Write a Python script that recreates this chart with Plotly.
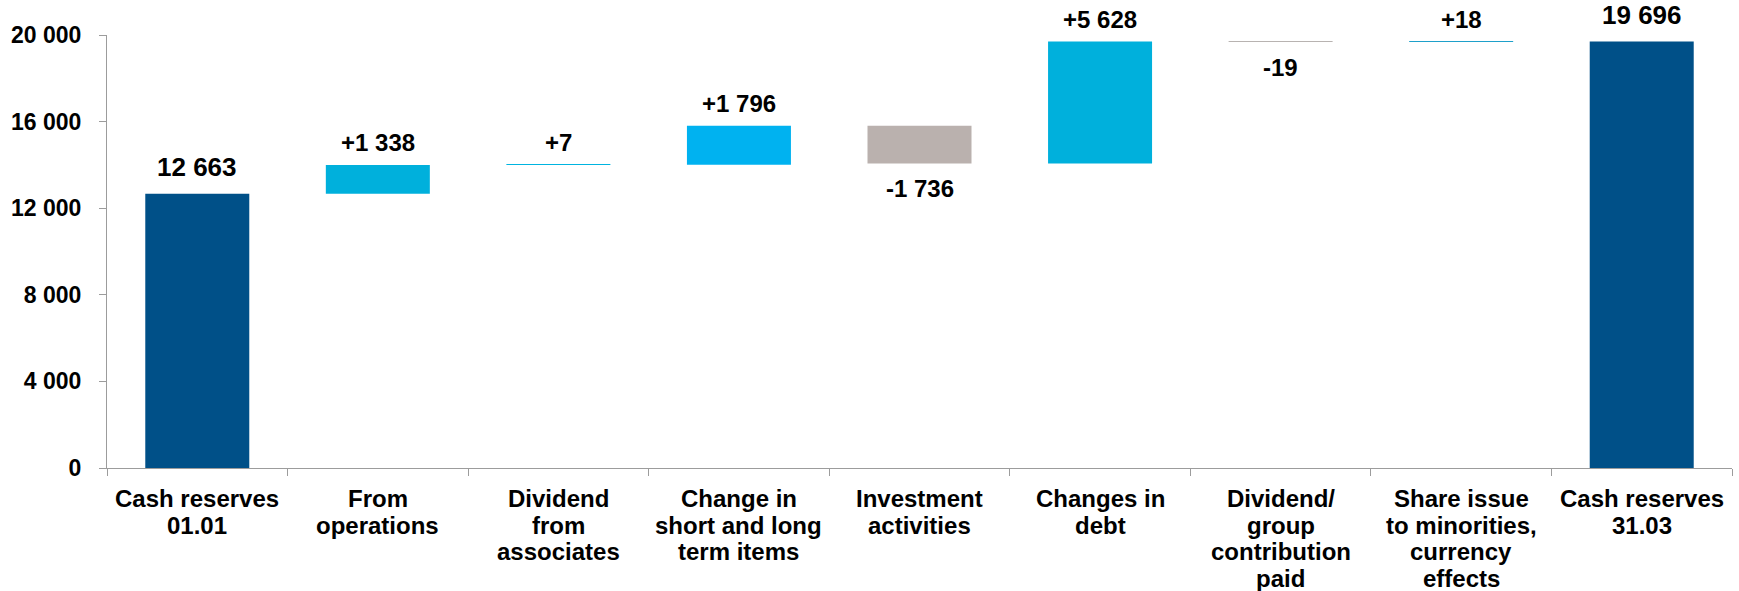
import plotly.graph_objects as go

# ---- data ----
categories = [
    "Cash reserves<br>01.01",
    "From<br>operations",
    "Dividend<br>from<br>associates",
    "Change in<br>short and long<br>term items",
    "Investment<br>activities",
    "Changes in<br>debt",
    "Dividend/<br>group<br>contribution<br>paid",
    "Share issue<br>to minorities,<br>currency<br>effects",
    "Cash reserves<br>31.03",
]
measures = ["total", "relative", "relative", "relative", "relative",
            "relative", "relative", "relative", "total"]
values = [12663, 1338, 7, 1796, -1736, 5628, -19, 18, 19696]
y_ticks = [0, 4000, 8000, 12000, 16000, 20000]

# ---- styles ----
bar_colors = ["#005088", "#00B0DC", "#00B4E0", "#00B2F0", "#BAB1AE",
              "#00B0DC", "#B8B3B1", "#1EA0CA", "#005088"]
FONT = "Liberation Sans, Arial, sans-serif"
AXIS_COLOR = "#9C9C9C"
LINE_STEP = 26.7      # px between category label lines
FIRST_LINE = -15      # px shift of first category label line below axis

# waterfall bases derived from the data
bases, heights = [], []
running = 0
for m, v in zip(measures, values):
    if m == "total":
        bases.append(0)
        heights.append(v)
        running = v
    else:
        bases.append(running)
        heights.append(v)
        running += v

def fmt(v, m):
    s = f"{abs(v):,}".replace(",", " ")
    if m == "total":
        return s
    return ("+" if v >= 0 else "-") + s

fig = go.Figure()
fig.add_trace(go.Bar(
    x=categories,
    y=heights,
    base=bases,
    width=0.576,
    marker=dict(color=bar_colors, line=dict(width=0)),
    hoverinfo="skip",
    showlegend=False,
))

annotations = []
for c, m, v, b in zip(categories, measures, values, bases):
    end = b + v
    txt = fmt(v, m)
    size = 26 if m == "total" else 24
    f = dict(family=FONT, size=size, color="#000000", weight="bold")
    if v >= 0:
        annotations.append(dict(
            x=c, y=end, xref="x", yref="y", text=txt, showarrow=False,
            yanchor="bottom", yshift=10 if m == "total" else 7, font=f,
        ))
    else:
        annotations.append(dict(
            x=c, y=end, xref="x", yref="y", text=txt, showarrow=False,
            yanchor="top", yshift=-10, font=f,
        ))

# category labels, one annotation per line for tight line spacing
for c in categories:
    for j, line in enumerate(c.split("<br>")):
        annotations.append(dict(
            x=c, y=0, xref="x", yref="y", text=line, showarrow=False,
            yanchor="top", xanchor="center",
            yshift=FIRST_LINE - j * LINE_STEP,
            font=dict(family=FONT, size=24, color="#000000", weight="bold"),
        ))

fig.update_layout(
    width=1739, height=591,
    margin=dict(l=107, r=7, t=35, b=123),
    plot_bgcolor="white", paper_bgcolor="white",
    separators=". ",
    annotations=annotations,
    font=dict(family=FONT, color="#000000"),
)
fig.update_yaxes(
    range=[0, 20000],
    tickvals=y_ticks,
    tickformat=",d",
    showgrid=False, zeroline=False,
    showline=True, linecolor=AXIS_COLOR, linewidth=1,
    ticks="outside", ticklen=7, tickcolor=AXIS_COLOR, tickwidth=1,
    tickfont=dict(family=FONT, size=23, color="#000000", weight="bold"),
    ticklabelstandoff=13,
    automargin=False,
    fixedrange=True,
)
fig.update_xaxes(
    showgrid=False, zeroline=False,
    showline=True, linecolor=AXIS_COLOR, linewidth=1,
    ticks="outside", ticklen=7, tickcolor=AXIS_COLOR, tickwidth=1,
    tickson="boundaries",
    showticklabels=False,
    automargin=False,
    fixedrange=True,
)

fig.write_html(
    "out.html",
    config={"displayModeBar": False},
    post_script="document.body.style.margin='0';document.body.style.padding='0';document.body.style.overflow='hidden';",
)
